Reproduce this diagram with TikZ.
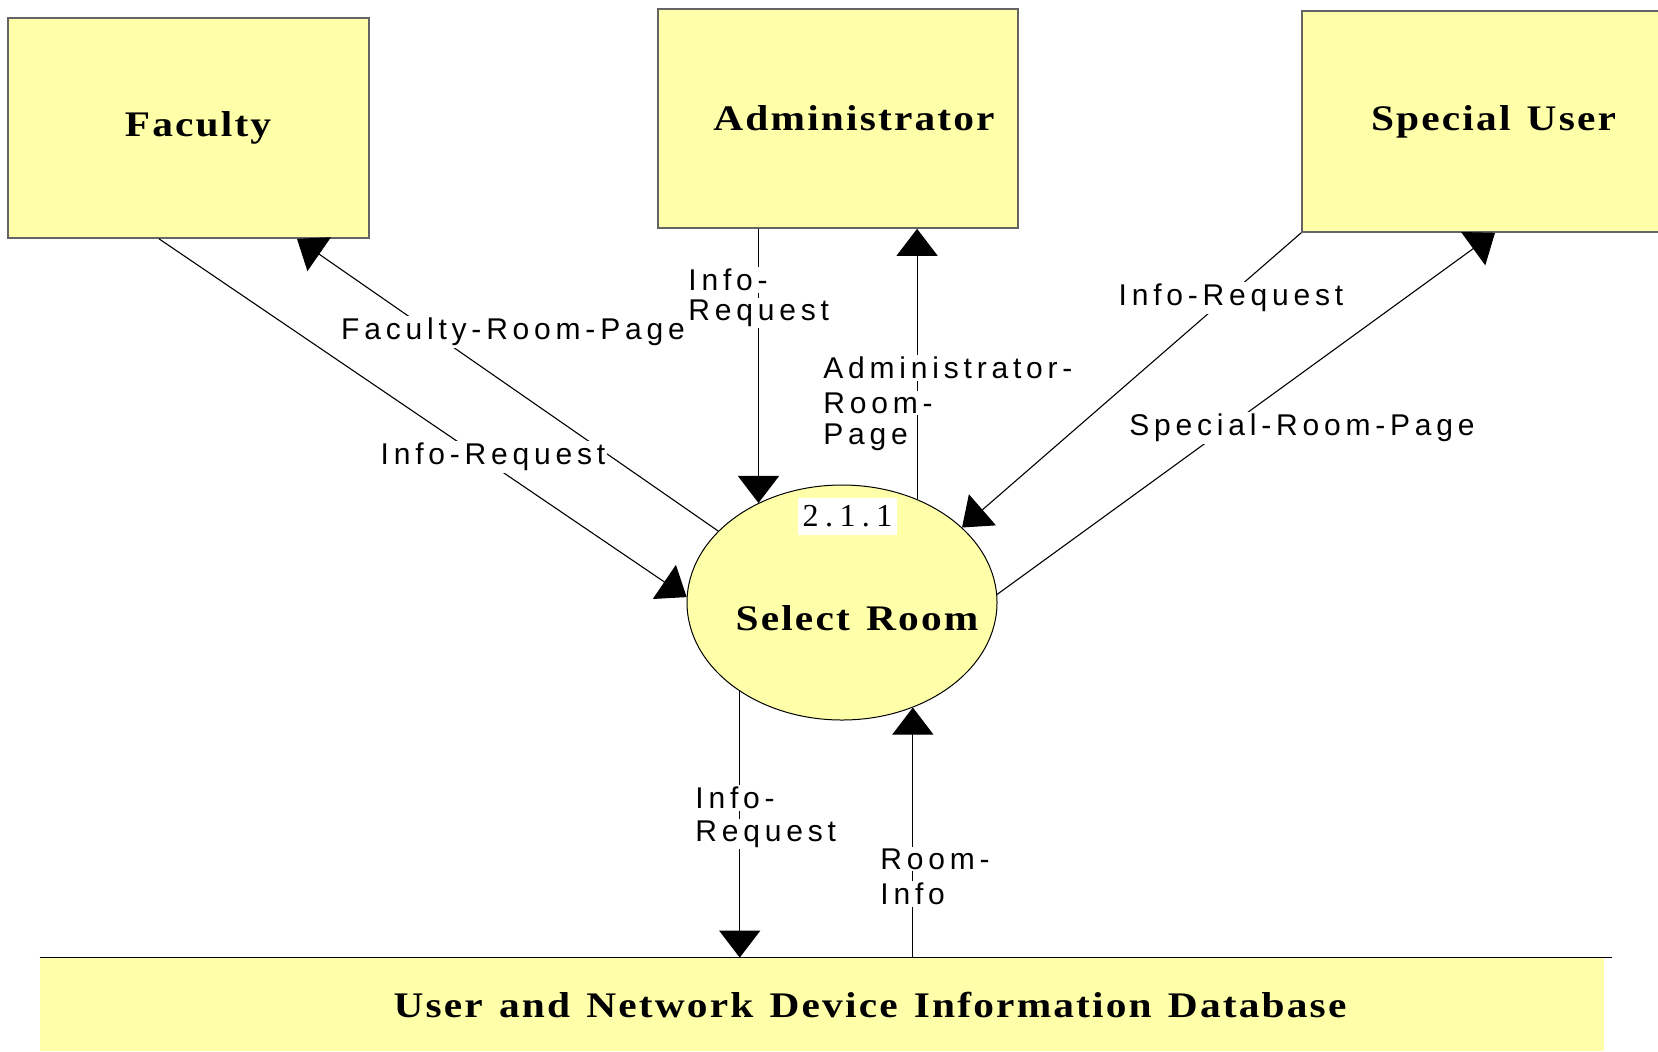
\documentclass[tikz,border=0pt]{standalone}
\usepackage{fontspec}
\setmainfont{Liberation Serif}
\newfontfamily\lblfont{Liberation Sans}[LetterSpace=16]
\newfontfamily\ttlfont{Liberation Serif}[LetterSpace=6,FakeStretch=1.15,WordSpace=1.3]
\newfontfamily\numfont{Liberation Serif}[LetterSpace=20]
\usetikzlibrary{arrows.meta,shapes.geometric}
\definecolor{dfdyellow}{RGB}{255,255,170}
\definecolor{boxgray}{RGB}{100,100,100}
\begin{document}
\begin{tikzpicture}[x=0.5pt,y=-0.5pt,
  entity/.style={rectangle, draw=boxgray, line width=0.8pt, fill=dfdyellow, inner sep=0},
  ttl/.style={font=\ttlfont\bfseries\fontsize{18}{21}\selectfont, inner sep=0},
  flow/.style={draw=black, line width=0.55pt, -{Triangle[length=13.5pt,width=20.5pt]}},
  flowlbl/.style={font=\lblfont\fontsize{15}{18}\selectfont, fill=white, inner sep=1pt},
  linelbl/.style={flowlbl, anchor=west},
]
\useasboundingbox (0,0) rectangle (1658,1051);

% external entities
\node[entity, minimum width=180.5pt, minimum height=110pt,
      label={[ttl, xshift=4.75pt]center:Faculty}] (fac) at (188.5,128) {};
\node[entity, minimum width=180pt, minimum height=109.5pt,
      label={[ttl, xshift=8pt]center:Administrator}] (adm) at (838,118.5) {};
\node[entity, minimum width=180pt, minimum height=110.5pt,
      label={[ttl, xshift=5.75pt]center:Special User}] (spu) at (1482,121.5) {};

% process
\node[ellipse, draw=black, line width=0.5pt, fill=dfdyellow,
      minimum width=155pt, minimum height=117.5pt, inner sep=0] (sel) at (842,602.5) {};
\node[ttl] (selt) at (857,618) {Select Room};
\node[fill=white, minimum width=49.5pt, minimum height=18.5pt, inner sep=0,
      font=\numfont\fontsize{16}{19}\selectfont] (num) at (847.5,516.5) {2.1.1};

% data store
\node[fill=dfdyellow, minimum width=782pt, minimum height=46.5pt, inner sep=0] (db) at (822,1004.5) {};
\draw[line width=0.8pt] (db.north west) -- ([xshift=4pt]db.north east);
\node[ttl] (dbt) at (870,1005) {User and Network Device Information Database};

% flows
\draw[flow] ([xshift=-14.75pt]fac.south) -- (sel.178);
\draw[flow] (sel.150) -- ([xshift=54.25pt]fac.south);
\draw[flow] (sel.130 |- adm.south) -- (sel.130);
\draw[flow] (sel.54) -- (sel.54 |- adm.south);
\draw[flow] (spu.south west) -- (sel.32);
\draw[flow] (sel.3) -- ([xshift=6.5pt]spu.south);
\draw[flow] (sel.221) -- (sel.221 |- db.north);
\draw[flow] (sel.304 |- db.north) -- (sel.304);

% flow labels
\node[flowlbl] (lfi) at (493,457) {Info-Request};
\node[flowlbl] (lfr) at (513,332) {Faculty-Room-Page};
\node[linelbl] (lai1) at (686,280) {Info-};
\node[linelbl] (lai2) at (686,313) {Request};
\node[linelbl] (lar1) at (821,368) {Administrator-};
\node[linelbl] (lar2) at (821,403) {Room-};
\node[linelbl] (lar3) at (821,437) {Page};
\node[flowlbl] (lsi) at (1231,298) {Info-Request};
\node[flowlbl] (lsr) at (1302,428) {Special-Room-Page};
\node[linelbl] (ldi1) at (693,798) {Info-};
\node[linelbl] (ldi2) at (693,834) {Request};
\node[linelbl] (ldr1) at (878,859) {Room-};
\node[linelbl] (ldr2) at (878,894) {Info};
\end{tikzpicture}
\end{document}
